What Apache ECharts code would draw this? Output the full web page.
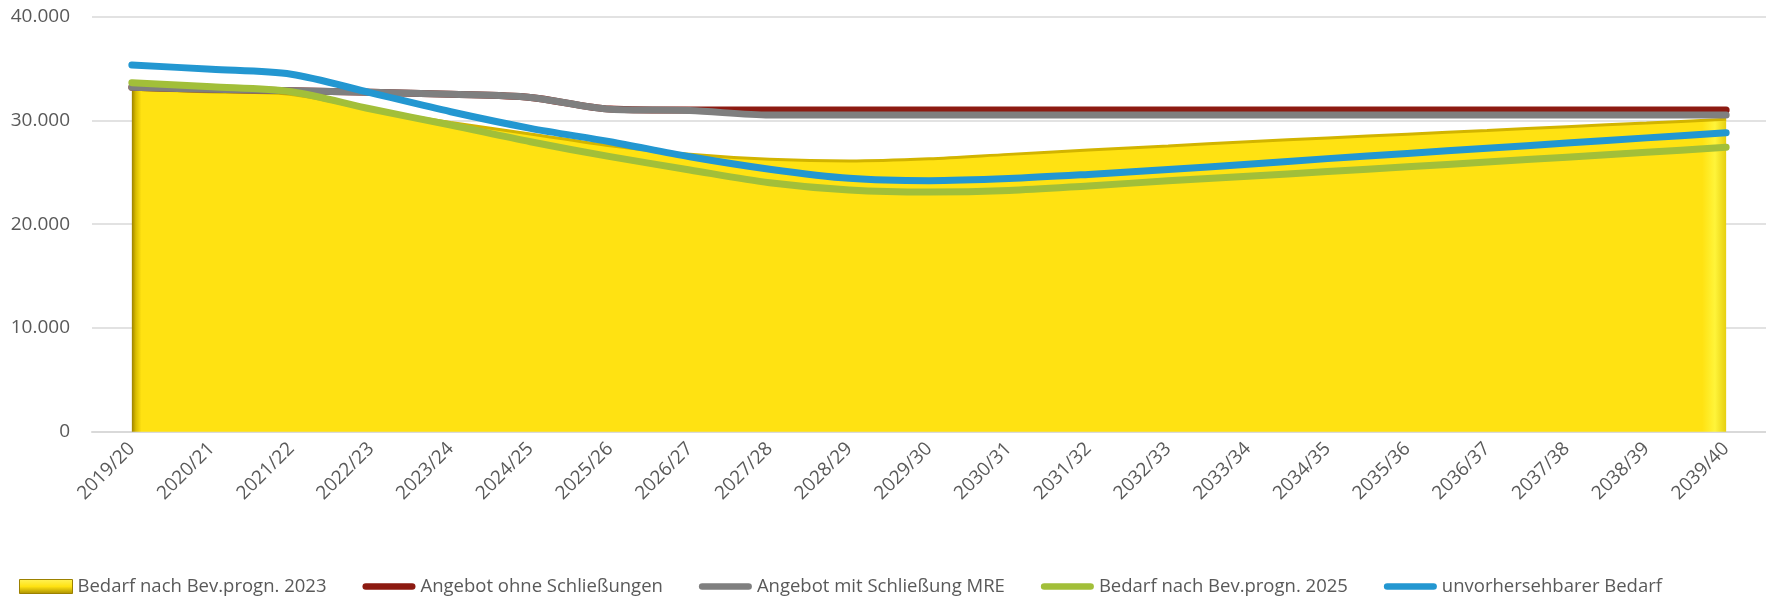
<!DOCTYPE html>
<html>
<head>
<meta charset="utf-8">
<script src="https://cdn.jsdelivr.net/npm/echarts@6/dist/echarts.min.js"></script>
<style>
  html, body { margin: 0; padding: 0; background: #ffffff; }
  #chart { width: 1766px; height: 600px; }
</style>
</head>
<body>
<div id="chart"></div>
<script>
const categories = ['2019/20','2020/21','2021/22','2022/23','2023/24','2024/25','2025/26','2026/27','2027/28','2028/29','2029/30','2030/31','2031/32','2032/33','2033/34','2034/35','2035/36','2036/37','2037/38','2038/39','2039/40'];

const bedarf2023 = [33000, 32750, 32500, 31050, 29800, 28700, 27550, 26750, 26260, 26090, 26300, 26730, 27140, 27540, 27950, 28320, 28680, 29040, 29400, 29750, 30110];
const angebotOhne = [33200, 33000, 32870, 32710, 32520, 32220, 31100, 31000, 31000, 31000, 31000, 31000, 31000, 31000, 31000, 31000, 31000, 31000, 31000, 31000, 31000];
const angebotMit = [33200, 33000, 32870, 32710, 32520, 32220, 31080, 30950, 30520, 30520, 30520, 30520, 30520, 30520, 30520, 30520, 30520, 30520, 30520, 30520, 30520];
const bedarf2025 = [33640, 33250, 32770, 31100, 29560, 27950, 26510, 25230, 24000, 23300, 23100, 23250, 23690, 24180, 24620, 25070, 25530, 26000, 26460, 26930, 27410];
const unvorhersehbar = [35350, 34930, 34450, 32660, 30840, 29240, 27950, 26500, 25300, 24420, 24200, 24400, 24800, 25270, 25780, 26320, 26820, 27320, 27820, 28320, 28820];

const seriesNames = ['Bedarf nach Bev.progn. 2023', 'Angebot ohne Schließungen', 'Angebot mit Schließung MRE', 'Bedarf nach Bev.progn. 2025', 'unvorhersehbarer Bedarf'];
const yTicks = { min: 0, max: 40000, interval: 10000 };

const FONT = 'Open Sans';
const TXT = '#595959';
const lineIcon = 'path://M3.5,0 H52.5 A3.5,3.5 0 0 1 52.5,7 H3.5 A3.5,3.5 0 0 1 3.5,0 Z';

function fmt(v) {
  const s = String(Math.round(v));
  return s.replace(/\B(?=(\d{3})+(?!\d))/g, '.');
}

const chart = echarts.init(document.getElementById('chart'), null, { renderer: 'canvas' });

function lineSeries(name, data, color, z) {
  return {
    name: name,
    type: 'line',
    data: data,
    smooth: 0.3,
    symbol: 'none',
    showSymbol: false,
    z: z,
    color: color,
    itemStyle: { color: color },
    lineStyle: { color: color, width: 7, cap: 'round', join: 'round' },
    emphasis: { disabled: true },
    animation: false
  };
}

const yellowFill = new echarts.graphic.LinearGradient(0, 0, 1, 0, [
  { offset: 0, color: '#9C8100' },
  { offset: 0.0025, color: '#D9BC00' },
  { offset: 0.006, color: '#FFE212' },
  { offset: 0.985, color: '#FFE212' },
  { offset: 0.993, color: '#FFF43A' },
  { offset: 1, color: '#E6CF10' }
]);

const legendYellow = new echarts.graphic.LinearGradient(0, 0, 0, 1, [
  { offset: 0, color: '#FFF35A' },
  { offset: 0.5, color: '#FFE212' },
  { offset: 1, color: '#A88E00' }
]);

const option = {
  backgroundColor: '#ffffff',
  animation: false,
  textStyle: { fontFamily: FONT },
  grid: { left: 92, top: 16.7, width: 1681, height: 415, containLabel: false },
  legend: {
    left: 19,
    top: 577,
    padding: 0,
    itemGap: 36,
    itemWidth: 53,
    itemHeight: 14,
    symbolKeepAspect: true,
    textStyle: { fontFamily: FONT, fontSize: 18.5, color: TXT },
    data: [
      { name: seriesNames[0], icon: 'rect', itemStyle: { color: legendYellow, borderColor: '#9C8100', borderWidth: 1 } },
      { name: seriesNames[1], icon: lineIcon },
      { name: seriesNames[2], icon: lineIcon },
      { name: seriesNames[3], icon: lineIcon },
      { name: seriesNames[4], icon: lineIcon }
    ]
  },
  xAxis: {
    type: 'category',
    data: categories,
    boundaryGap: true,
    axisLine: { show: true, lineStyle: { color: '#D9D9D9', width: 2 } },
    axisTick: { show: false },
    axisLabel: { interval: 0, rotate: 45, margin: 14, fontFamily: FONT, fontSize: 19, color: TXT },
    splitLine: { show: false }
  },
  yAxis: {
    type: 'value',
    min: yTicks.min,
    max: yTicks.max,
    interval: yTicks.interval,
    axisLine: { show: false },
    axisTick: { show: false },
    axisLabel: { margin: 22, fontFamily: FONT, fontSize: 19, color: TXT, formatter: fmt },
    splitLine: { show: true, lineStyle: { color: '#D9D9D9', width: 1.5 } }
  },
  series: [
    {
      name: seriesNames[0],
      type: 'line',
      data: bedarf2023,
      smooth: 0.3,
      symbol: 'none',
      showSymbol: false,
      z: 1,
      color: '#FFE212',
      itemStyle: { color: '#FFE212' },
      lineStyle: { color: '#D2B400', width: 3 },
      areaStyle: { color: yellowFill, opacity: 1 },
      emphasis: { disabled: true },
      animation: false
    },
    lineSeries(seriesNames[1], angebotOhne, '#8C1A11', 2),
    lineSeries(seriesNames[2], angebotMit, '#7F7F7F', 3),
    lineSeries(seriesNames[3], bedarf2025, '#A2BF39', 4),
    lineSeries(seriesNames[4], unvorhersehbar, '#2397D1', 5)
  ]
};

chart.setOption(option);
</script>
</body>
</html>
